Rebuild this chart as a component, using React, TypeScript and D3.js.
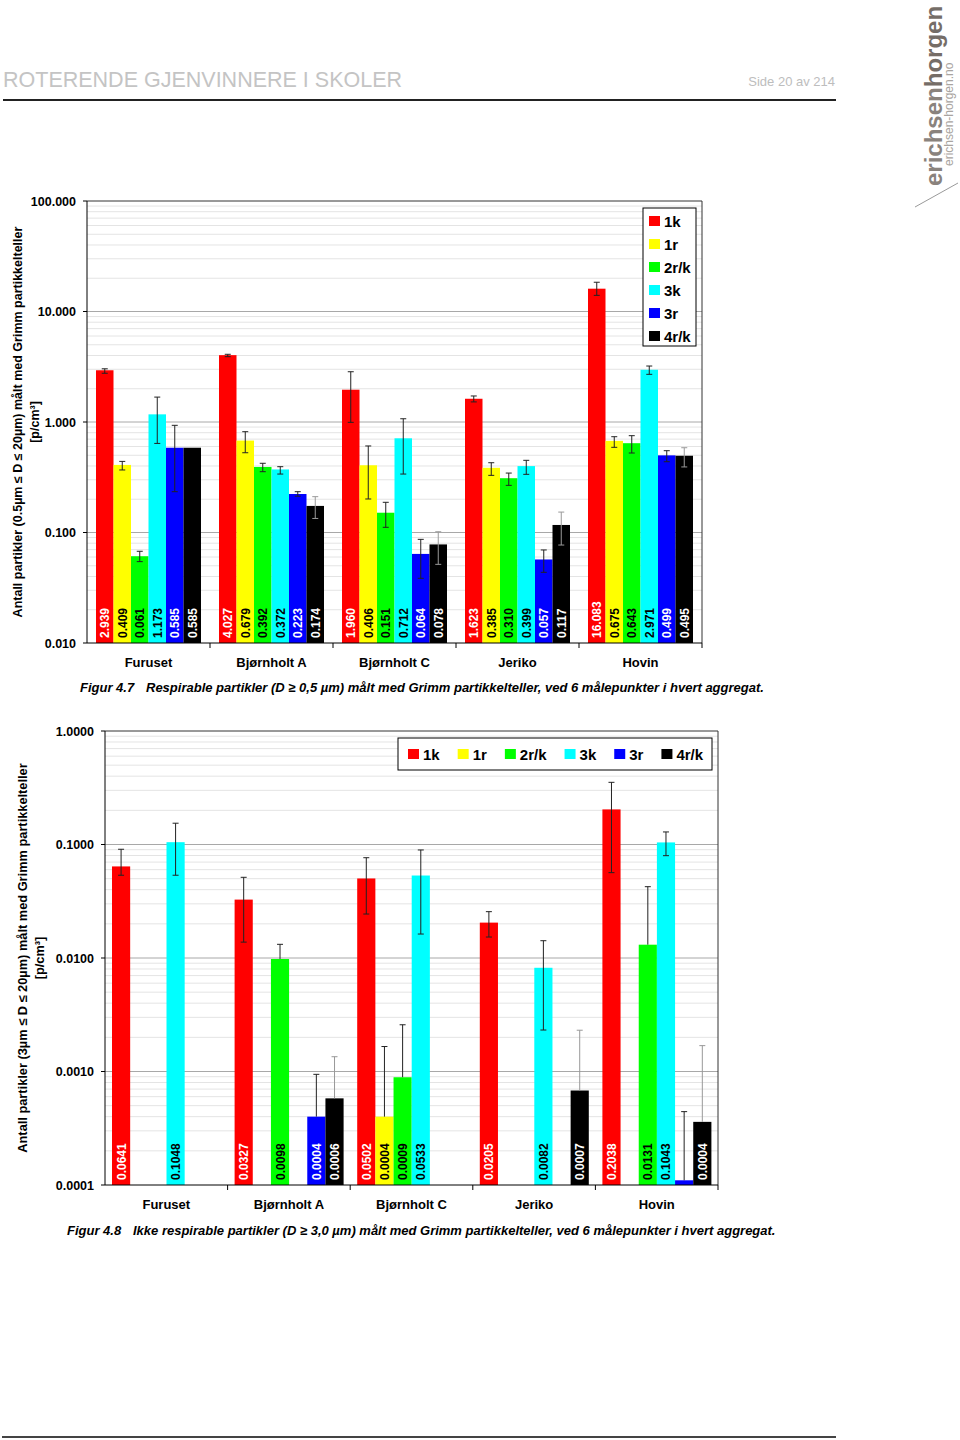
import React from 'react';
import * as d3 from 'd3';

const FONT = "'Liberation Sans', Arial, Helvetica, sans-serif";

const SITES = ['Furuset', 'Bjørnholt A', 'Bjørnholt C', 'Jeriko', 'Hovin'];
const SERIES = ['1k', '1r', '2r/k', '3k', '3r', '4r/k'];
const COLORS = ['#ff0000', '#ffff00', '#00ff00', '#00ffff', '#0000ff', '#000000'];
const LABEL_COLORS = ['#ffffff', '#000000', '#000000', '#000000', '#ffffff', '#ffffff'];
const ERR_COLORS = ['#222', '#222', '#222', '#222', '#222', '#999'];

// Figure 4.7 – respirable particles (0.5–20 µm), p/cm³
const resp1k = [2.939, 4.027, 1.96, 1.623, 16.083];
const resp1r = [0.409, 0.679, 0.406, 0.385, 0.675];
const resp2rk = [0.061, 0.392, 0.151, 0.31, 0.643];
const resp3k = [1.173, 0.372, 0.712, 0.399, 2.971];
const resp3r = [0.585, 0.223, 0.064, 0.057, 0.499];
const resp4rk = [0.585, 0.174, 0.078, 0.117, 0.495];
// error bar upper / lower bounds
const resp1kHi = [3.03, 4.1, 2.85, 1.72, 18.4];
const resp1kLo = [2.76, 3.9, 0.993, 1.52, 14.0];
const resp1rHi = [0.44, 0.817, 0.607, 0.428, 0.736];
const resp1rLo = [0.368, 0.527, 0.201, 0.329, 0.59];
const resp2rkHi = [0.0676, 0.423, 0.1876, 0.345, 0.752];
const resp2rkLo = [0.0545, 0.355, 0.1114, 0.267, 0.524];
const resp3kHi = [1.68, 0.394, 1.07, 0.45, 3.21];
const resp3kLo = [0.64, 0.338, 0.338, 0.336, 2.7];
const resp3rHi = [0.933, 0.234, 0.0867, 0.0695, 0.55];
const resp3rLo = [0.234, 0.213, 0.0385, 0.0436, 0.437];
const resp4rkHi = [null, 0.211, 0.1016, 0.153, 0.585];
const resp4rkLo = [null, 0.134, 0.0515, 0.077, 0.392];
const respTicks = [0.01, 0.1, 1, 10, 100];
const respTickLabels = ['0.010', '0.100', '1.000', '10.000', '100.000'];

// Figure 4.8 – non-respirable particles (3–20 µm), p/cm³ (null = no bar)
const coarse1k = [0.0641, 0.0327, 0.0502, 0.0205, 0.2038];
const coarse1r = [null, null, 0.0004, null, null];
const coarse2rk = [null, 0.0098, 0.00089, null, 0.0131];
const coarse3k = [0.1048, null, 0.0533, 0.0082, 0.1043];
const coarse3r = [null, 0.0004, null, null, 0.00011];
const coarse4rk = [null, 0.00058, null, 0.00068, 0.00036];
const coarse1kHi = [0.0908, 0.0514, 0.0765, 0.0256, 0.353];
const coarse1kLo = [0.0536, 0.0138, 0.0244, 0.0153, 0.0565];
const coarse1rHi = [null, null, 0.00166, null, null];
const coarse1rLo = [null, null, null, null, null];
const coarse2rkHi = [null, 0.0132, 0.00258, null, 0.0425];
const coarse2rkLo = [null, null, null, null, null];
const coarse3kHi = [0.154, null, 0.0895, 0.0142, 0.129];
const coarse3kLo = [0.0536, null, 0.01626, 0.00232, 0.0797];
const coarse3rHi = [null, 0.000944, null, null, 0.000443];
const coarse3rLo = [null, null, null, null, null];
const coarse4rkHi = [null, 0.00135, null, 0.00231, 0.00169];
const coarse4rkLo = [null, null, null, null, null];
const coarseHiddenLabels = [[4, 4]]; // [series, site]: Hovin 3r has no visible label
const coarseTicks = [0.0001, 0.001, 0.01, 0.1, 1];
const coarseTickLabels = ['0.0001', '0.0010', '0.0100', '0.1000', '1.0000'];

type Series = { values: (number | null)[]; hi: (number | null)[]; lo: (number | null)[] };

const respSeries: Series[] = [
  { values: resp1k, hi: resp1kHi, lo: resp1kLo },
  { values: resp1r, hi: resp1rHi, lo: resp1rLo },
  { values: resp2rk, hi: resp2rkHi, lo: resp2rkLo },
  { values: resp3k, hi: resp3kHi, lo: resp3kLo },
  { values: resp3r, hi: resp3rHi, lo: resp3rLo },
  { values: resp4rk, hi: resp4rkHi, lo: resp4rkLo },
];
const coarseSeries: Series[] = [
  { values: coarse1k, hi: coarse1kHi, lo: coarse1kLo },
  { values: coarse1r, hi: coarse1rHi, lo: coarse1rLo },
  { values: coarse2rk, hi: coarse2rkHi, lo: coarse2rkLo },
  { values: coarse3k, hi: coarse3kHi, lo: coarse3kLo },
  { values: coarse3r, hi: coarse3rHi, lo: coarse3rLo },
  { values: coarse4rk, hi: coarse4rkHi, lo: coarse4rkLo },
];

function measure(text: string, font: string): number {
  if (typeof document === 'undefined') return text.length * 8;
  const c = document.createElement('canvas').getContext('2d');
  if (!c) return text.length * 8;
  c.font = font;
  return c.measureText(text).width;
}

type ChartProps = {
  x0: number; x1: number; yTop: number; yBot: number;
  domain: [number, number];
  ticks: number[]; tickLabels: string[];
  series: Series[];
  inner: [number, number];
  decimals: number;
  hidden?: number[][];
  titleLines: string[];
  titleX: number[];
  titleSize: number;
  catY: number;
  legend: 'vertical' | 'horizontal';
  legendBox: { x: number; y: number; w: number; h: number };
};

function BarChart(p: ChartProps) {
  const y = d3.scaleLog().domain(p.domain).range([p.yBot, p.yTop]);
  const xo = d3.scaleBand().domain(SITES).range([p.x0, p.x1]).paddingInner(0).paddingOuter(0);
  const xi = d3.scaleBand().domain(SERIES).range(p.inner).padding(0);
  const bw = xi.bandwidth();
  const minor: number[] = [];
  const d0 = Math.round(Math.log10(p.domain[0]));
  const d1 = Math.round(Math.log10(p.domain[1]));
  for (let d = d0; d < d1; d++) for (let k = 2; k <= 9; k++) minor.push(k * Math.pow(10, d));
  const hidden = p.hidden || [];
  const isHidden = (s: number, i: number) => hidden.some(h => h[0] === s && h[1] === i);
  const midY = (p.yTop + p.yBot) / 2;

  const legendFont = `bold 15px ${FONT}`;
  let lx = p.legendBox.x + 10;
  const hItems = SERIES.map((s) => {
    const item = { x: lx, s };
    lx += 11 + 4 + measure(s, legendFont) + 18;
    return item;
  });

  return (
    <g fontFamily={FONT}>
      {minor.map((v, i) => (
        <line key={'m' + i} x1={p.x0} x2={p.x1} y1={y(v)} y2={y(v)} stroke="#e4e4e4" strokeWidth={1} />
      ))}
      {p.ticks.slice(1, -1).map((v, i) => (
        <line key={'g' + i} x1={p.x0} x2={p.x1} y1={y(v)} y2={y(v)} stroke="#a8a8a8" strokeWidth={1} />
      ))}
      {/* plot border */}
      <line x1={p.x0} x2={p.x1} y1={p.yTop} y2={p.yTop} stroke="#333" strokeWidth={1} />
      <line x1={p.x1} x2={p.x1} y1={p.yTop} y2={p.yBot} stroke="#333" strokeWidth={1} />
      {/* bars */}
      {p.series.map((s, si) =>
        s.values.map((v, i) => {
          if (v == null) return null;
          const x = (xo(SITES[i]) as number) + (xi(SERIES[si]) as number);
          return <rect key={`b${si}-${i}`} x={x} y={y(v)} width={bw} height={p.yBot - y(v)} fill={COLORS[si]} />;
        })
      )}
      {/* error bars */}
      {p.series.map((s, si) =>
        s.values.map((v, i) => {
          const hi = s.hi[i];
          const lo = s.lo[i];
          if (v == null || hi == null) return null;
          const cx = (xo(SITES[i]) as number) + (xi(SERIES[si]) as number) + bw / 2;
          const yh = y(hi);
          const yl = lo == null ? y(v) : y(lo);
          const c = ERR_COLORS[si];
          return (
            <g key={`e${si}-${i}`} stroke={c} strokeWidth={1}>
              <line x1={cx} x2={cx} y1={yh} y2={yl} />
              <line x1={cx - 3} x2={cx + 3} y1={yh} y2={yh} />
              {lo != null && <line x1={cx - 3} x2={cx + 3} y1={yl} y2={yl} />}
            </g>
          );
        })
      )}
      {/* value labels */}
      {p.series.map((s, si) =>
        s.values.map((v, i) => {
          if (v == null || isHidden(si, i)) return null;
          const cx = (xo(SITES[i]) as number) + (xi(SERIES[si]) as number) + bw / 2;
          const ty = p.yBot - 5;
          return (
            <text key={`l${si}-${i}`} transform={`translate(${cx + 4.5},${ty}) rotate(-90)`}
              fontSize={12} fontWeight="bold" fill={LABEL_COLORS[si]}>
              {v.toFixed(p.decimals)}
            </text>
          );
        })
      )}
      {/* axes */}
      <line x1={p.x0} x2={p.x0} y1={p.yTop} y2={p.yBot} stroke="#000" strokeWidth={1} />
      <line x1={p.x0} x2={p.x1} y1={p.yBot} y2={p.yBot} stroke="#000" strokeWidth={1} />
      {p.ticks.map((v, i) => (
        <g key={'t' + i}>
          <line x1={p.x0 - 4} x2={p.x0} y1={y(v)} y2={y(v)} stroke="#000" />
          <text x={p.x0 - 11} y={y(v) + 4.5} textAnchor="end" fontSize={12.5} fontWeight="bold" fill="#000">
            {p.tickLabels[i]}
          </text>
        </g>
      ))}
      {SITES.map((s, i) => (
        <g key={'c' + i}>
          {i > 0 && (
            <line x1={xo(s) as number} x2={xo(s) as number} y1={p.yBot} y2={p.yBot + 5} stroke="#000" />
          )}
          <text x={(xo(s) as number) + xo.bandwidth() / 2} y={p.catY} textAnchor="middle"
            fontSize={13} fontWeight="bold" fill="#000">{s}</text>
        </g>
      ))}
      <line x1={p.x1} x2={p.x1} y1={p.yBot} y2={p.yBot + 5} stroke="#000" />
      {/* y title */}
      {p.titleLines.map((t, i) => (
        <text key={'yt' + i} transform={`translate(${p.titleX[i]},${midY}) rotate(-90)`}
          textAnchor="middle" fontSize={p.titleSize} fontWeight="bold" fill="#000">{t}</text>
      ))}
      {/* legend */}
      <rect x={p.legendBox.x} y={p.legendBox.y} width={p.legendBox.w} height={p.legendBox.h}
        fill="#fff" stroke="#000" strokeWidth={1} />
      {p.legend === 'vertical'
        ? SERIES.map((s, i) => {
            const cy = p.legendBox.y + 13 + i * 23;
            return (
              <g key={'lg' + i}>
                <rect x={p.legendBox.x + 6} y={cy - 5} width={11} height={10} fill={COLORS[i]} />
                <text x={p.legendBox.x + 21} y={cy + 5.5} fontSize={15} fontWeight="bold" fill="#000">{s}</text>
              </g>
            );
          })
        : hItems.map((it, i) => {
            const cy = p.legendBox.y + p.legendBox.h / 2;
            return (
              <g key={'lg' + i}>
                <rect x={it.x} y={cy - 5} width={11} height={10} fill={COLORS[i]} />
                <text x={it.x + 15} y={cy + 5.5} fontSize={15} fontWeight="bold" fill="#000">{it.s}</text>
              </g>
            );
          })}
    </g>
  );
}

export default function App() {
  return (
    <svg width={960} height={1440} style={{ position: 'absolute', left: 0, top: 0, background: '#fff' }}
      fontFamily={FONT}>
      <rect x={0} y={0} width={960} height={1440} fill="#fff" />
      {/* header */}
      <text x={3} y={87} fontSize={21.5} fill="#c4c4c4">ROTERENDE GJENVINNERE I SKOLER</text>
      <text x={835} y={86} fontSize={13} fill="#bdbdbd" textAnchor="end">Side 20 av 214</text>
      <line x1={3} x2={836} y1={100} y2={100} stroke="#222" strokeWidth={2} />
      {/* logo */}
      <text transform="translate(942,186) rotate(-90)" fontSize={24} fontWeight="bold" fill="#8a837d">
        erichsen<tspan fill="#756d67">horgen</tspan>
      </text>
      <text transform="translate(953,166) rotate(-90)" fontSize={12} fill="#a9a4a0">erichsen-horgen.no</text>
      <line x1={915} y1={207} x2={958} y2={183} stroke="#9a9a9a" strokeWidth={1} />

      <BarChart
        x0={87} x1={702} yTop={201} yBot={643}
        domain={[0.01, 100]} ticks={respTicks} tickLabels={respTickLabels}
        series={respSeries} inner={[9, 114]} decimals={3}
        titleLines={['Antall partikler (0.5µm ≤ D ≤ 20µm) målt med Grimm partikkelteller', '[p/cm³]']}
        titleX={[22, 39]} titleSize={12.5} catY={667}
        legend="vertical" legendBox={{ x: 643, y: 208, w: 53, h: 138 }}
      />
      <text x={80} y={692} fontSize={13} fontWeight="bold" fontStyle="italic">Figur 4.7</text>
      <text x={146} y={692} fontSize={13} fontWeight="bold" fontStyle="italic">
        Respirable partikler (D ≥ 0,5 µm) målt med Grimm partikkelteller, ved 6 målepunkter i hvert aggregat.
      </text>

      <BarChart
        x0={105} x1={718} yTop={731} yBot={1185}
        domain={[0.0001, 1]} ticks={coarseTicks} tickLabels={coarseTickLabels}
        series={coarseSeries} inner={[7, 116]} decimals={4} hidden={coarseHiddenLabels}
        titleLines={['Antall partikler (3µm ≤ D ≤ 20µm) målt med Grimm partikkelteller', '[p/cm³]']}
        titleX={[27, 44]} titleSize={12.8} catY={1209}
        legend="horizontal" legendBox={{ x: 398, y: 738, w: 314, h: 32 }}
      />
      <text x={67} y={1235} fontSize={13} fontWeight="bold" fontStyle="italic">Figur 4.8</text>
      <text x={133} y={1235} fontSize={13} fontWeight="bold" fontStyle="italic">
        Ikke respirable partikler (D ≥ 3,0 µm) målt med Grimm partikkelteller, ved 6 målepunkter i hvert aggregat.
      </text>

      <line x1={2} x2={836} y1={1437} y2={1437} stroke="#444" strokeWidth={2} />
    </svg>
  );
}
